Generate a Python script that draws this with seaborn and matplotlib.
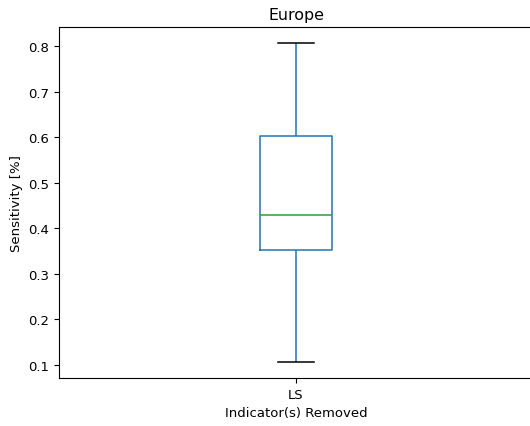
import matplotlib
matplotlib.use("Agg")
import matplotlib.pyplot as plt
import seaborn as sns
import pandas as pd

# Sensitivity samples for the removed indicator (five-number summary)
indicator = ["LS", "LS", "LS", "LS", "LS"]
sensitivity = [0.106, 0.3525, 0.430, 0.6025, 0.8065]

df = pd.DataFrame({"indicator": indicator, "sensitivity": sensitivity})

plt.rcParams["font.size"] = 9.5

fig = plt.figure(figsize=(5.3, 4.27), dpi=100)
ax = fig.add_axes([0.111, 0.112, 0.895, 0.822])

blue = "#1f77b4"
sns.boxplot(
    data=df, x="indicator", y="sensitivity", ax=ax,
    width=0.15, fill=False, linewidth=1.1, whis=1.5,
    boxprops=dict(color=blue),
    whiskerprops=dict(color=blue),
    capprops=dict(color="black"),
    medianprops=dict(color="#2ca02c"),
    flierprops=dict(marker="o"),
)

# the axes runs past the figure's right edge, so its right border is not seen
ax.spines["right"].set_visible(False)

ax.set_title("Europe", fontsize=11.4)
ax.set_xlabel("Indicator(s) Removed")
ax.set_ylabel("Sensitivity [%]")

fig.savefig("out.png", dpi=100)
